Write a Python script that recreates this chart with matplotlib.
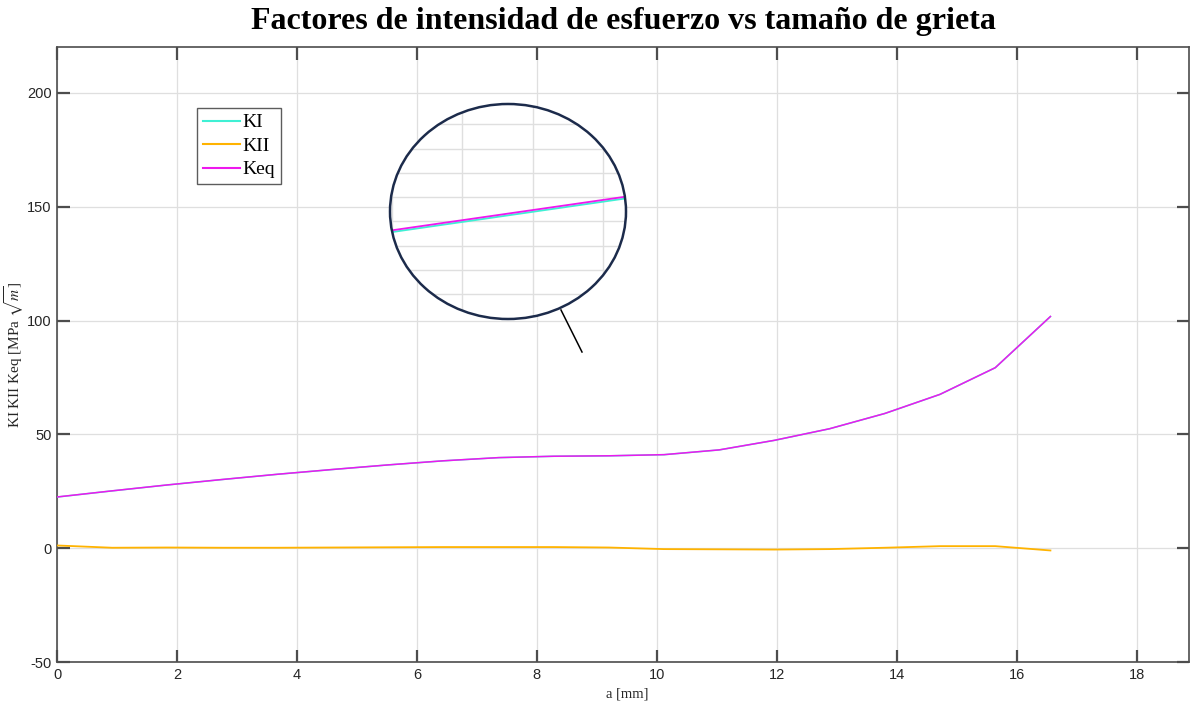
import numpy as np
import matplotlib
matplotlib.use("Agg")
import matplotlib.pyplot as plt
from matplotlib.patches import Ellipse
from matplotlib.lines import Line2D

# Crack length [mm]
a_mm = [0.00, 0.92, 1.84, 2.76, 3.68, 4.60, 5.52, 6.44, 7.36, 8.28,
        9.20, 10.12, 11.04, 11.96, 12.88, 13.80, 14.72, 15.64, 16.56]

# Stress intensity factors [MPa sqrt(m)]
K_eq = [22.5, 25.2, 27.8, 30.2, 32.5, 34.6, 36.6, 38.4, 39.8, 40.4,
        40.6, 41.1, 43.2, 47.4, 52.5, 59.2, 67.6, 79.3, 101.8]
K_I = [22.47, 25.18, 27.78, 30.18, 32.48, 34.58, 36.58, 38.38, 39.78, 40.38,
       40.58, 41.08, 43.18, 47.38, 52.48, 59.18, 67.58, 79.28, 101.78]
K_II = [1.2, 0.2, 0.3, 0.2, 0.2, 0.3, 0.4, 0.5, 0.5, 0.5,
        0.3, -0.4, -0.5, -0.6, -0.4, 0.2, 0.9, 0.9, -1.0]

series_labels = ["KI", "KII", "Keq"]
title_text = "Factores de intensidad de esfuerzo vs tamaño de grieta"
xlabel_text = "a [mm]"
ylabel_text = r"KI KII Keq [MPa $\sqrt{m}$]"

c_ki = "#3ff0d4"
c_kii = "#ffb300"
c_keq = "#ee18ee"
axis_col = "#4d4d4d"
grid_col = "#dfdfdf"

plt.rcParams["axes.unicode_minus"] = False
plt.rcParams["mathtext.fontset"] = "stix"

W, H = 1191, 709
fig = plt.figure(figsize=(W / 100, H / 100), dpi=100)
fig.patch.set_facecolor("white")

ax = fig.add_axes([57 / W, (H - 662) / H, (1189 - 57) / W, (662 - 47) / H])
ax.plot(a_mm, K_I, color=c_ki, lw=1.1, label=series_labels[0], zorder=3)
ax.plot(a_mm, K_II, color=c_kii, lw=1.3, label=series_labels[1], zorder=3)
ax.plot(a_mm, K_eq, color=c_keq, lw=1.1, label=series_labels[2], zorder=3)

ax.set_xlim(0, 18.87)
ax.set_ylim(-50, 220.2)
ax.set_xticks(np.arange(0, 19, 2))
ax.set_yticks(np.arange(-50, 201, 50))
ax.grid(True, color=grid_col, lw=0.9)
ax.set_axisbelow(True)
ax.tick_params(direction="in", length=9, width=1.6, colors=axis_col,
               labelcolor="#262626", labelsize=10.5, top=True, right=True,
               pad=4)
for lab in ax.get_xticklabels() + ax.get_yticklabels():
    lab.set_family("Liberation Sans")
for sp in ax.spines.values():
    sp.set_color(axis_col)
    sp.set_linewidth(1.2)

ax.set_xlabel(xlabel_text, family="Liberation Serif", fontsize=10.5,
              color="#262626")
ax.xaxis.set_label_coords((627 - 57) / (1189 - 57), -(688 - 662) / (662 - 47))
ax.set_ylabel(ylabel_text, family="Liberation Serif", fontsize=11,
              color="#262626")
ax.yaxis.set_label_coords(-(57 - 26) / (1189 - 57), 0.5)
fig.text((57 + 1189) / 2 / W, 1 - 21 / H, title_text, ha="center",
         va="center", family="Liberation Serif", weight="bold", fontsize=23)

leg = ax.legend(loc="upper left", bbox_to_anchor=((197 - 57) / (1189 - 57),
                                                   1 - (108 - 47) / (662 - 47)),
                prop={"family": "Liberation Serif", "size": 14},
                frameon=True, fancybox=False, handlelength=1.9,
                handletextpad=0.15, borderpad=0.3, labelspacing=0.3,
                borderaxespad=0)
leg.get_frame().set_edgecolor("#333333")
leg.get_frame().set_linewidth(1.0)
for lh in leg.get_lines():
    lh.set_linewidth(1.5)

# Magnified view of the curves inside an elliptical lens
ex0, ey0, ew, eh = 390, 104, 236, 215
ax_in = fig.add_axes([ex0 / W, (H - ey0 - eh) / H, ew / W, eh / H])
ax_in.set_xlim(4.0485, 4.0485 + 0.1679)
ax_in.set_ylim(32.344, 32.344 + 2.425)
ax_in.patch.set_alpha(0)
ax_in.set_xticks([])
ax_in.set_yticks([])
for sp in ax_in.spines.values():
    sp.set_visible(False)

lens_fill = Ellipse((0.5, 0.5), 1, 1, transform=ax_in.transAxes,
                    facecolor="white", edgecolor="none", zorder=0)
ax_in.add_patch(lens_fill)
clip = Ellipse((0.5, 0.5), 1, 1, transform=ax_in.transAxes,
               facecolor="none", edgecolor="none")
ax_in.add_patch(clip)

for gx in np.arange(4.05, 4.22, 0.05):
    l = ax_in.axvline(gx, color=grid_col, lw=1.0, zorder=1)
    l.set_clip_path(clip)
for gy in np.arange(32.349, 34.9, 0.274):
    l = ax_in.axhline(gy, color=grid_col, lw=1.0, zorder=1)
    l.set_clip_path(clip)

for ys, col in ((K_I, c_ki), (K_eq, c_keq), (K_II, c_kii)):
    ln, = ax_in.plot(a_mm, ys, color=col, lw=1.3, zorder=2)
    ln.set_clip_path(clip)

rim = Ellipse((0.5, 0.5), 1, 1, transform=ax_in.transAxes, facecolor="none",
              edgecolor="#1c2b4b", lw=1.8, zorder=5, clip_on=False)
ax_in.add_patch(rim)

pointer = Line2D([561 / W, 582 / W], [1 - 310 / H, 1 - 352 / H],
                 transform=fig.transFigure, color="black", lw=1.1)
fig.add_artist(pointer)

fig.savefig("out.png", dpi=100, facecolor="white")
